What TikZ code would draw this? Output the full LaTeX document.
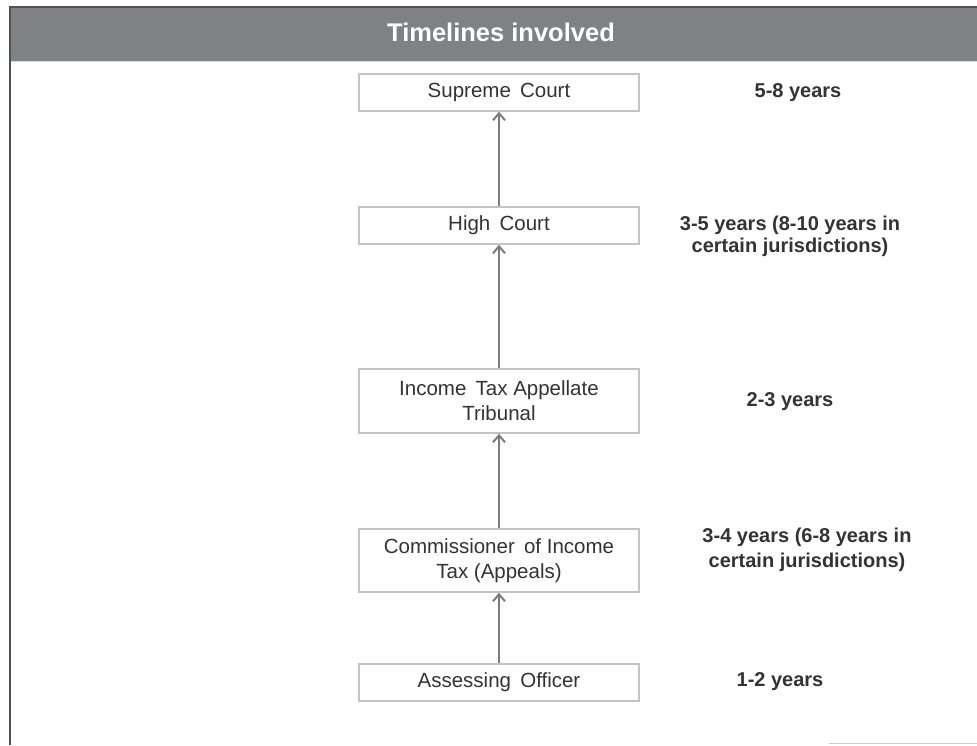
\documentclass[tikz,border=0pt]{standalone}
\usepackage{fontspec}
\setmainfont{Liberation Sans}
\usetikzlibrary{arrows.meta}
\definecolor{hdr}{HTML}{808185}
\definecolor{hdrline}{HTML}{4F5052}
\definecolor{boxline}{HTML}{C4C4C4}
\definecolor{arrcol}{HTML}{7A7B7E}
\definecolor{txt}{HTML}{333333}
\tikzset{
  stage/.style={draw=boxline, line width=1.5pt, fill=white, minimum width=280pt,
    inner sep=0pt, align=center, text=txt, font=\fontsize{20.5}{25}\selectfont},
  lbl/.style={align=center, text=txt, font=\bfseries\fontsize{20}{22}\selectfont, inner sep=0pt},
  arr/.style={draw=arrcol, line width=2pt, -{Straight Barb[length=7pt,width=12pt,line width=2pt]}}
}
\begin{document}
\begin{tikzpicture}[x=1pt,y=-1pt]
\useasboundingbox (0,0) rectangle (977,745);
\fill[white] (0,0) rectangle (977,745);
% header
\fill[hdr] (9,7) rectangle (977,62);
\draw[hdrline, line width=1.5pt] (9,7) -- (977,7);
\draw[white!85!black, line width=1pt] (10,61.5) -- (977,61.5);
\node[text=white, font=\bfseries\fontsize{25.5}{28}\selectfont] (title) at (501,32) {Timelines involved};
% left border
\draw[hdrline, line width=2pt] (10,7) -- (10,745);
% bottom-right faint line
\coordinate (bl) at (829,743);
\coordinate (br) at (977,743);
\draw[gray!40, line width=1pt] (bl) -- (br);
% stages
\node[stage, minimum height=37pt] (sc) at (499,92.5) {Supreme\hspace{0.45em}Court};
\node[stage, minimum height=37pt] (hc) at (499,225.5) {High\hspace{0.45em}Court};
\node[stage, minimum height=64pt] (itat) at (499,401) {Income\hspace{0.45em}Tax Appellate\\Tribunal};
\node[stage, minimum height=63pt] (cit) at (499,560.5) {Commissioner\hspace{0.45em}of Income\\Tax (Appeals)};
\node[stage, minimum height=37pt] (ao) at (499,682.5) {Assessing\hspace{0.45em}Officer};
% arrows
\draw[arr] (ao.north) -- (cit.south);
\draw[arr] (cit.north) -- (itat.south);
\draw[arr] (itat.north) -- (hc.south);
\draw[arr] (hc.north) -- (sc.south);
% labels
\node[lbl] (l1) at (798,93) {5-8 years};
\node[lbl] (l2) at (790,236) {3-5 years (8-10 years in\\certain jurisdictions)};
\node[lbl] (l3) at (790,402) {2-3 years};
\node[lbl, font=\bfseries\fontsize{20}{25}\selectfont] (l4) at (807,549.5) {3-4 years (6-8 years in\\certain jurisdictions)};
\node[lbl] (l5) at (780,682) {1-2 years};
\end{tikzpicture}
\end{document}
